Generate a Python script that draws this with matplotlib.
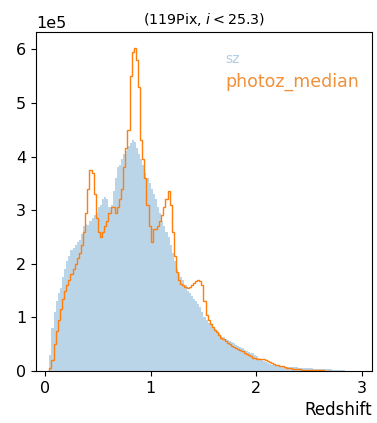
import numpy as np
from matplotlib import pyplot as plt

# histogram bins in redshift (width 0.02), counts in units of 1e5
bin_start = 0.04
bin_width = 0.02

sz_counts = [
    0.30, 0.80, 1.10, 1.30, 1.45, 1.55, 1.75, 1.90, 2.05, 2.15,
    2.25, 2.30, 2.35, 2.40, 2.45, 2.55, 2.70, 2.75, 2.72, 2.80,
    2.85, 2.90, 2.95, 3.05, 3.10, 3.20, 3.25, 3.20, 3.05, 3.10,
    3.35, 3.60, 3.80, 3.85, 3.95, 4.05, 4.10, 4.20, 4.25, 4.30,
    4.28, 4.15, 4.05, 3.95, 3.85, 3.70, 3.60, 3.50, 3.40, 3.30,
    3.20, 3.05, 2.95, 2.80, 2.70, 2.60, 2.50, 2.35, 2.20, 2.05,
    1.90, 1.80, 1.75, 1.70, 1.60, 1.50, 1.45, 1.40, 1.35, 1.30,
    1.25, 1.20, 1.10, 1.00, 0.95, 0.90, 0.85, 0.80, 0.78, 0.74,
    0.70, 0.66, 0.64, 0.60, 0.58, 0.56, 0.54, 0.52, 0.48, 0.47,
    0.45, 0.42, 0.40, 0.38, 0.36, 0.34, 0.33, 0.30, 0.28, 0.24,
    0.20, 0.18, 0.16, 0.14, 0.13, 0.12, 0.11, 0.10, 0.09, 0.09,
    0.08, 0.08, 0.08, 0.075, 0.07, 0.07, 0.07, 0.065, 0.06, 0.06,
    0.06, 0.055, 0.05, 0.05, 0.05, 0.045, 0.04, 0.04, 0.04, 0.035,
    0.03, 0.03, 0.03, 0.03, 0.025, 0.02, 0.02, 0.02, 0.015, 0.01,
]

photoz_counts = [
    0.05, 0.20, 0.50, 0.75, 0.95, 1.15, 1.35, 1.50, 1.60, 1.70,
    1.80, 1.90, 2.00, 2.10, 2.20, 2.35, 2.60, 2.95, 3.40, 3.75,
    3.70, 3.30, 2.85, 2.60, 2.50, 2.60, 2.70, 2.80, 2.95, 3.05,
    3.05, 2.95, 3.05, 3.20, 3.40, 3.80, 4.15, 4.50, 5.50, 5.95,
    6.02, 5.80, 5.30, 4.30, 3.95, 3.60, 3.10, 2.70, 2.40, 2.65,
    2.65, 2.70, 2.80, 2.90, 3.05, 3.20, 3.35, 3.10, 2.60, 2.15,
    1.85, 1.70, 1.63, 1.60, 1.57, 1.55, 1.57, 1.60, 1.65, 1.68,
    1.70, 1.68, 1.60, 1.30, 1.05, 0.95, 0.88, 0.82, 0.77, 0.72,
    0.67, 0.62, 0.59, 0.56, 0.53, 0.50, 0.47, 0.45, 0.43, 0.41,
    0.39, 0.37, 0.34, 0.31, 0.29, 0.27, 0.25, 0.24, 0.23, 0.23,
    0.23, 0.22, 0.21, 0.19, 0.17, 0.15, 0.13, 0.12, 0.11, 0.10,
    0.09, 0.07, 0.06, 0.05, 0.05, 0.04, 0.04, 0.03, 0.03, 0.025,
    0.02, 0.02, 0.02, 0.015, 0.015, 0.01, 0.01, 0.01, 0.01, 0.01,
    0.005, 0.005, 0.005, 0.005,
]


def main():
    sz = np.array(sz_counts) * 1e5
    pz = np.array(photoz_counts) * 1e5
    sz_edges = bin_start + bin_width * np.arange(len(sz) + 1)
    pz_edges = bin_start + bin_width * np.arange(len(pz) + 1)

    fig = plt.figure(figsize=(3.77, 4.23), dpi=100)
    ax = fig.add_axes([0.0955, 0.123, 0.892, 0.801])

    ax.stairs(sz, sz_edges, fill=True, color='tab:blue', alpha=0.3, label='sz')
    ax.stairs(pz, pz_edges, color='tab:orange', lw=1.0, label='photoz_median')

    ax.set_xlim(-0.086, 3.1)
    ax.set_ylim(0, 6.32e5)
    ax.set_xticks([0, 1, 2, 3])
    ax.ticklabel_format(axis='y', style='sci', scilimits=(0, 0))
    ax.tick_params(labelsize=11.5)
    ax.yaxis.get_offset_text().set_fontsize(11.5)
    ax.set_xlabel('Redshift', loc='right', fontsize=12)
    ax.set_title('(119Pix, $i < 25.3$)', fontsize=10.3)

    leg = ax.legend(handlelength=0, handletextpad=0, frameon=False,
                    loc='upper left', bbox_to_anchor=(0.525, 0.978),
                    labelspacing=0.45)
    for h in leg.legend_handles:
        h.set_visible(False)
    texts = leg.get_texts()
    texts[0].set_color('#b3cde3')
    texts[0].set_fontsize(10)
    texts[1].set_color('#f0913a')
    texts[1].set_fontsize(12.5)

    fig.savefig('out.png', dpi=100)


if __name__ == '__main__':
    main()
